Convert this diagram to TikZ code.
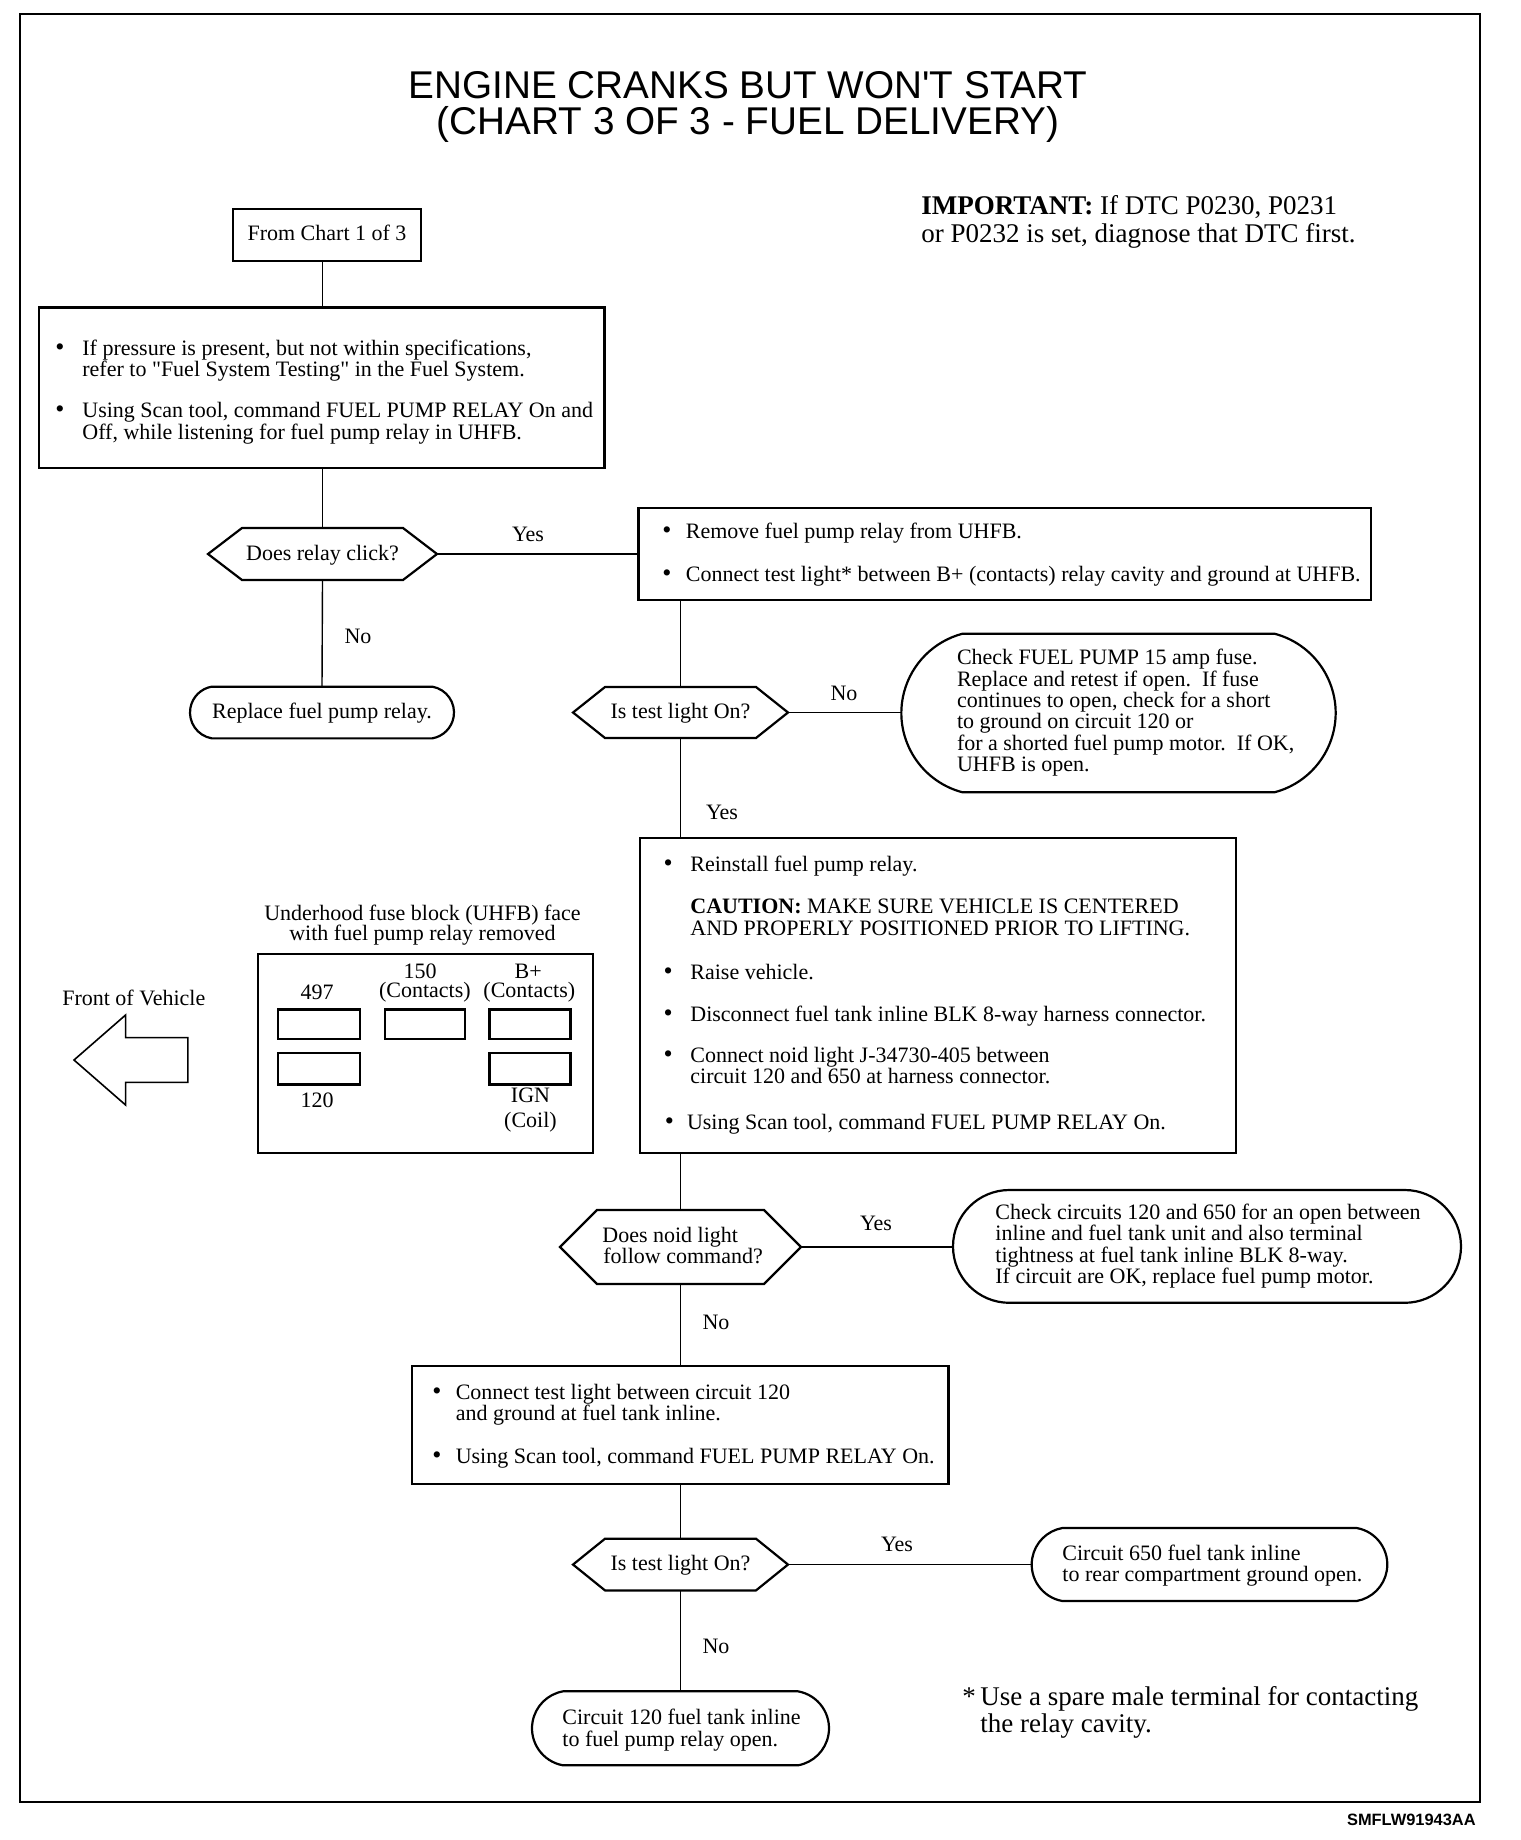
\documentclass[tikz,border=0pt]{standalone}
\usepackage{fontspec}
\setmainfont{Liberation Serif}
\newfontfamily\sansf{Liberation Sans}
\newfontfamily\rawserif[Ligatures=TeXOff]{Liberation Serif}
\usetikzlibrary{shapes.misc,fit}
\newcommand\bodyf{\fontsize{11pt}{10.5pt}\selectfont}
\newcommand\bigf{\fontsize{13.5pt}{14pt}\selectfont}
\newcommand\titlef{\sansf\fontsize{19.35pt}{17pt}\selectfont}
\newcommand\bul{{\fontsize{13pt}{13pt}\selectfont\textbullet}}
\newcommand\dq{{\rawserif"}}
\newcommand\hexdraw[2]{\draw[boxst] (#1.west) -- ([xshift=#2]#1.north west) -- ([xshift=-#2]#1.north east) -- (#1.east) -- ([xshift=-#2]#1.south east) -- ([xshift=#2]#1.south west) -- cycle;}
\begin{document}
\begin{tikzpicture}[x=0.5pt,y=-0.5pt,
  boxst/.style={draw, line width=1.1pt, inner sep=0pt, outer sep=0pt},
  plain/.style={inner sep=0pt, outer sep=0pt},
  termst/.style={draw, line width=1.1pt, rounded rectangle, rounded rectangle arc length=160, inner sep=0pt, outer sep=0pt},
  conn/.style={line width=0.7pt},
  tl/.style={anchor=base west, inner sep=0pt, font=\bodyf},
  tc/.style={anchor=base, inner sep=0pt, font=\bodyf},
  lbl/.style={anchor=base, inner sep=0pt, font=\bodyf},
]
\useasboundingbox (0,0) rectangle (1520,1840);
\fill[white] (0,0) rectangle (1520,1840);
\draw[line width=1.25pt] (20,14) rectangle (1480,1802);

% title
\node[anchor=base, inner sep=0pt, font=\titlef] (ti1) at (748,99) {ENGINE CRANKS BUT WON'T START};
\node[anchor=base, inner sep=0pt, font=\titlef] (ti2) at (748,135) {(CHART 3 OF 3 - FUEL DELIVERY)};
\node[anchor=base west, inner sep=0pt, font=\bigf] (imp1) at (921,215) {\textbf{IMPORTANT:} If DTC P0230, P0231};
\node[anchor=base west, inner sep=0pt, font=\bigf] (imp2) at (921,243) {or P0232 is set, diagnose that DTC first.};

% shapes
\node[boxst, fit={(233,209)(421,261)}] (from1) {};
\node[boxst, fit={(39,307.5)(604.5,468)}] (box1) {};
\node[plain, fit={(208,528)(437,580)}] (d1) {};
\hexdraw{d1}{17pt}
\node[boxst, fit={(638.5,508)(1371,600)}] (box2) {};
\node[termst, minimum width=132pt, minimum height=25.85pt] (t1) at (322,712.5) {};
\node[plain, fit={(573,687)(788,738)}] (d2) {};
\hexdraw{d2}{16pt}
\node[termst, rounded rectangle arc length=150, minimum width=217.15pt, minimum height=79.2pt] (t2) at (1118.5,713) {};
\node[boxst, fit={(639.7,838)(1235.9,1152.6)}] (box3) {};
\node[plain, fit={(560,1210)(801,1284)}] (d3) {};
\hexdraw{d3}{18.5pt}
\node[termst, rounded rectangle arc length=180, minimum width=254pt, minimum height=56.4pt] (t3) at (1207,1246.4) {};
\node[boxst, fit={(412,1366.2)(948.4,1483.6)}] (box4) {};
\node[plain, fit={(573,1538.7)(788,1590.4)}] (d4) {};
\hexdraw{d4}{16pt}
\node[termst, minimum width=177.8pt, minimum height=36.5pt] (t4) at (1209.5,1564.5) {};
\node[termst, minimum width=148.5pt, minimum height=37pt] (t5) at (680.5,1728.3) {};

% connectors
\draw[conn] (from1.south -| d1.north) -- (d1.north |- box1.north);
\draw[conn] (d1.north |- box1.south) -- (d1.north);
\draw[conn] (d1.east) -- (d1.east -| box2.west);
\draw[conn] (d1.south) -- (t1.north);
\draw[conn] (d2.north |- box2.south) -- (d2.north);
\draw[conn] (d2.east) -- (d2.east -| t2.west);
\draw[conn] (d2.south) -- (d2.south |- box3.north);
\draw[conn] (d3.north |- box3.south) -- (d3.north);
\draw[conn] (d3.east) -- (d3.east -| t3.west);
\draw[conn] (d3.south) -- (d3.south |- box4.north);
\draw[conn] (d4.north |- box4.south) -- (d4.north);
\draw[conn] (d4.east) -- (d4.east -| t4.west);
\draw[conn] (d4.south) -- (t5.north);

% labels
\node[lbl] (y1) at (528,541) {Yes};
\node[lbl] (n1) at (358,643) {No};
\node[lbl] (n2) at (844,700) {No};
\node[lbl] (y2) at (722,819) {Yes};
\node[lbl] (y3) at (876,1230) {Yes};
\node[lbl] (n3) at (716,1329) {No};
\node[lbl] (y4) at (897,1551) {Yes};
\node[lbl] (n4) at (716,1653) {No};

% texts
\node[tc] (from1t) at (327,241) {From Chart 1 of 3};

\node[tl] (b1u1) at (55,356) {\bul};
\node[tl] (b1l1) at (82,356) {If pressure is present, but not within specifications,};
\node[tl] (b1l2) at (82,377) {refer to \dq Fuel System Testing\dq{} in the Fuel System.};
\node[tl] (b1u2) at (55,417) {\bul};
\node[tl] (b1l3) at (82,417) {Using Scan tool, command FUEL PUMP RELAY On and};
\node[tl] (b1l4) at (82,439) {Off, while listening for fuel pump relay in UHFB.};

\node[tc] (d1t) at (322.5,560) {Does relay click?};

\node[tl] (b2u1) at (662,538) {\bul};
\node[tl] (b2l1) at (685.5,538) {Remove fuel pump relay from UHFB.};
\node[tl] (b2u2) at (662,581) {\bul};
\node[tl] (b2l2) at (685.5,581) {Connect test light* between B+ (contacts) relay cavity and ground at UHFB.};

\node[tc] (t1t) at (322,718) {Replace fuel pump relay.};
\node[tc] (d2t) at (680.5,718.5) {Is test light On?};

\node[tl] (t2l1) at (956.6,664) {Check FUEL PUMP 15 amp fuse.};
\node[tl] (t2l2) at (956.6,686) {Replace and retest if open.\ \ If fuse};
\node[tl] (t2l3) at (956.6,707) {continues to open, check for a short};
\node[tl] (t2l4) at (956.6,728) {to ground on circuit 120 or};
\node[tl] (t2l5) at (956.6,750) {for a shorted fuel pump motor.\ \ If OK,};
\node[tl] (t2l6) at (956.6,771) {UHFB is open.};

\node[tl] (b3u1) at (663.3,871) {\bul};
\node[tl] (b3l1) at (690,871) {Reinstall fuel pump relay.};
\node[tl] (b3l2) at (690,913) {\textbf{CAUTION:} MAKE SURE VEHICLE IS CENTERED};
\node[tl] (b3l3) at (690,935) {AND PROPERLY POSITIONED PRIOR TO LIFTING.};
\node[tl] (b3u2) at (663.3,979) {\bul};
\node[tl] (b3l4) at (690,979) {Raise vehicle.};
\node[tl] (b3u3) at (663.3,1021) {\bul};
\node[tl] (b3l5) at (690,1021) {Disconnect fuel tank inline BLK 8-way harness connector.};
\node[tl] (b3u4) at (663.3,1062) {\bul};
\node[tl] (b3l6) at (690,1062) {Connect noid light J-34730-405 between};
\node[tl] (b3l7) at (690,1083) {circuit 120 and 650 at harness connector.};
\node[tl] (b3u5) at (664.5,1129) {\bul};
\node[tl] (b3l8) at (686.6,1129) {Using Scan tool, command FUEL PUMP RELAY On.};

\node[tl] (d3l1) at (602,1242) {Does noid light};
\node[tl] (d3l2) at (603,1263) {follow command?};

\node[tl] (t3l1) at (995,1219.6) {Check circuits 120 and 650 for an open between};
\node[tl] (t3l2) at (995,1240.7) {inline and fuel tank unit and also terminal};
\node[tl] (t3l3) at (995,1262) {tightness at fuel tank inline BLK 8-way.};
\node[tl] (t3l4) at (995,1283) {If circuit are OK, replace fuel pump motor.};

\node[tl] (b4u1) at (432,1399) {\bul};
\node[tl] (b4l1) at (455.4,1399) {Connect test light between circuit 120};
\node[tl] (b4l2) at (455.4,1420) {and ground at fuel tank inline.};
\node[tl] (b4u2) at (432,1463) {\bul};
\node[tl] (b4l3) at (455.4,1463) {Using Scan tool, command FUEL PUMP RELAY On.};

\node[tc] (d4t) at (680.5,1570.6) {Is test light On?};

\node[tl] (t4l1) at (1062,1560) {Circuit 650 fuel tank inline};
\node[tl] (t4l2) at (1062,1581) {to rear compartment ground open.};

\node[tl] (t5l1) at (562,1724) {Circuit 120 fuel tank inline};
\node[tl] (t5l2) at (562,1746.6) {to fuel pump relay open.};

\node[anchor=base west, inner sep=0pt, font=\bigf] (fn1) at (962,1705) {*\,Use a spare male terminal for contacting};
\node[anchor=base west, inner sep=0pt, font=\bigf] (fn2) at (980,1732) {the relay cavity.};

\node[anchor=base east, inner sep=0pt, font=\sansf\bfseries\fontsize{8.2pt}{9pt}\selectfont] (code) at (1476,1825) {SMFLW91943AA};

% UHFB face diagram
\node[tc] (uh1) at (422.5,920) {Underhood fuse block (UHFB) face};
\node[tc] (uh2) at (422.5,940) {with fuel pump relay removed};
\node[boxst, fit={(258.2,954.2)(592.7,1152.6)}] (uhfb) {};
\node[boxst, fit={(278.2,1009.4)(360.3,1038.7)}] (s497) {};
\node[boxst, fit={(385,1009.4)(464.8,1038.7)}] (s150) {};
\node[boxst, fit={(489.4,1009.4)(570.4,1038.7)}] (sbp) {};
\node[boxst, fit={(278.2,1052.8)(360.3,1084.5)}] (s120) {};
\node[boxst, fit={(489.4,1052.8)(570.4,1084.5)}] (sign) {};
\node[tc] (l497) at (317,999) {497};
\node[tc] (l150) at (420.2,978) {150};
\node[tc] (l150c) at (424.9,997) {(Contacts)};
\node[tc] (lbp) at (528.2,978) {B+};
\node[tc] (lbpc) at (529.3,997) {(Contacts)};
\node[tc] (l120) at (317,1107) {120};
\node[tc] (lign) at (530.5,1102) {IGN};
\node[tc] (lignc) at (530.5,1127) {(Coil)};
\node[tc] (fov) at (133.8,1005) {Front of Vehicle};
\draw[line width=0.8pt] (74,1060) -- (125.6,1015) -- (125.6,1037.6) -- (187.8,1037.6) -- (187.8,1082.4) -- (125.6,1082.4) -- (125.6,1105) -- cycle;
\end{tikzpicture}
\end{document}
